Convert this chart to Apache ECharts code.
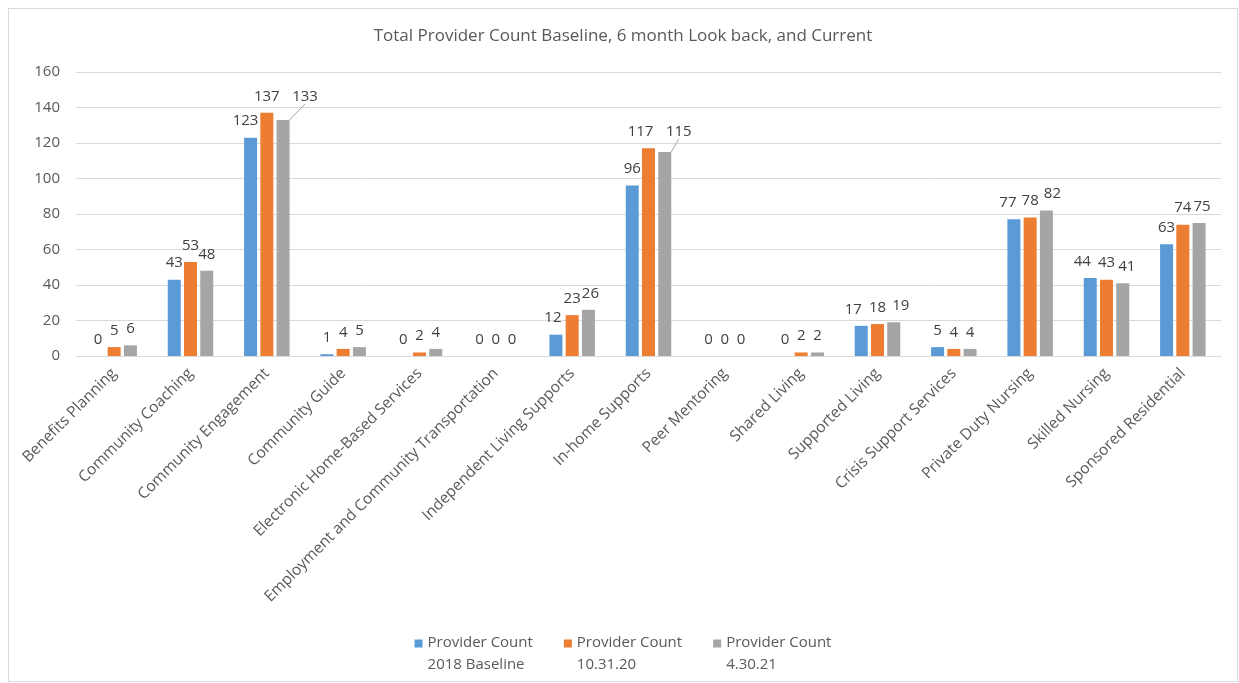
<!DOCTYPE html>
<html><head><meta charset="utf-8">
<script src="https://cdn.jsdelivr.net/npm/echarts@6/dist/echarts.min.js"></script>
<style>html,body{margin:0;padding:0;background:#fff}#c{position:absolute;left:8px;top:8px;width:1230px;height:674px;border:1px solid #d9d9d9;box-sizing:border-box}</style>
</head><body><div id="c"></div>
<script>
const categories = ["Benefits Planning","Community Coaching","Community Engagement","Community Guide","Electronic Home-Based Services","Employment and Community Transportation","Independent Living Supports","In-home Supports","Peer Mentoring","Shared Living","Supported Living","Crisis Support Services","Private Duty Nursing","Skilled Nursing","Sponsored Residential"];
const baseline2018 = [0,43,123,1,0,0,12,96,0,0,17,5,77,44,63];
const count103120 = [5,53,137,4,2,0,23,117,0,2,18,4,78,43,74];
const count43021 = [6,48,133,5,4,0,26,115,0,2,19,4,82,41,75];
const seriesNames = ["Provider Count\n2018 Baseline","Provider Count\n10.31.20","Provider Count\n4.30.21"];
const yTicks = [0,20,40,60,80,100,120,140,160];
// label nudges [dx, dy] per series (index -> offset), as Excel spread the crowded labels
const labelShift = [
  {2:[-5,0], 6:[-3,0], 10:[-8,0], 12:[-6,0], 13:[-8,0]},
  {7:[-8,0]},
  {2:[22,-7], 7:[14,-4], 6:[2,0], 10:[7,0], 12:[6,0], 13:[4,0], 14:[3,0]}
];
const leaderLines = [2,7]; // gray labels with a leader line

const FONT = '"Open Sans", Lato, sans-serif';
const colors = ['#5B9BD5','#ED7D31','#A5A5A5'];
const chart = echarts.init(document.getElementById('c'));
function mk(i, data){
  const d = data.map((v,k) => (i===2 && leaderLines.includes(k))
    ? {value:v, labelLine:{show:true, lineStyle:{color:'#a6a6a6', width:1}}} : v);
  return {
    name: seriesNames[i], type:'bar', data: d, barWidth: 13, barGap: '25%',
    itemStyle:{color: colors[i]},
    label:{show:true, position:'top', distance:9, color:'#404040', fontSize:15, fontFamily:FONT},
    labelLayout: function(p){
      const m = labelShift[i][p.dataIndex];
      return m ? {dx:m[0], dy:m[1]} : {};
    }
  };
}
chart.setOption({
  animation:false,
  color: colors,
  title:{text:'Total Provider Count Baseline, 6 month Look back, and Current', left:'center', top:14,
    textStyle:{fontFamily:FONT, fontSize:17, fontWeight:'normal', color:'#595959'}},
  grid:{left:67, right:16, top:63, bottom:325},
  legend:{top:621, left:'center', itemWidth:8, itemHeight:8, itemGap:31, icon:'rect',
    formatter: function(name){ const p = name.split('\n'); return '{a|' + p[0] + '}\n{b|' + p[1] + '}'; },
    textStyle:{fontFamily:FONT, fontSize:15, color:'#595959',
      rich:{a:{fontFamily:FONT, fontSize:15, color:'#595959', lineHeight:42},
            b:{fontFamily:FONT, fontSize:15, color:'#595959', lineHeight:2}}}},
  xAxis:{type:'category', data:categories,
    axisLine:{lineStyle:{color:'#d9d9d9'}}, axisTick:{show:false},
    axisLabel:{interval:0, rotate:45, fontFamily:FONT, fontSize:15.5, color:'#595959', margin:15}},
  yAxis:{type:'value', min:0, max:160, interval:20,
    axisLine:{show:false}, axisTick:{show:false},
    splitLine:{lineStyle:{color:'#d9d9d9'}},
    axisLabel:{fontFamily:FONT, fontSize:15, color:'#595959', margin:16,
      formatter: v => yTicks.includes(v) ? String(v) : ''}},
  series:[mk(0,baseline2018), mk(1,count103120), mk(2,count43021)]
});
</script></body></html>
